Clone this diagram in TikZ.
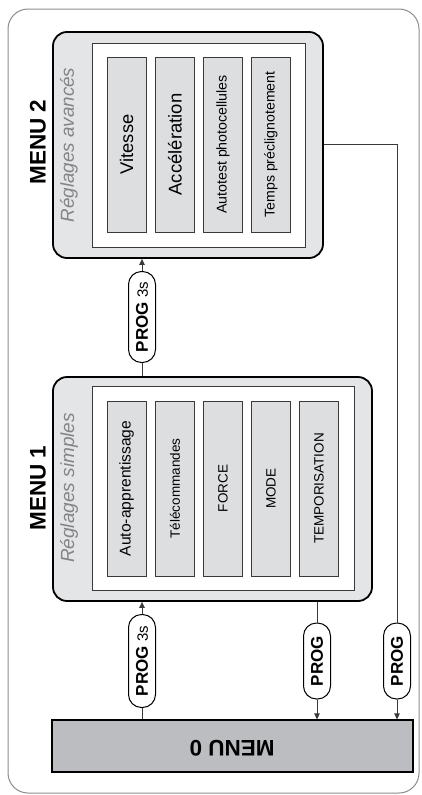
\documentclass[tikz,border=0pt]{standalone}
\usepackage{fontspec}
\setmainfont{Liberation Sans}
\usetikzlibrary{arrows.meta}
\definecolor{framegray}{HTML}{8C8C8C}
\definecolor{menufill}{HTML}{E4E5E6}
\definecolor{itemfill}{HTML}{DDDEE0}
\definecolor{zerofill}{HTML}{BCBDC0}
\definecolor{titlegray}{HTML}{828487}
\definecolor{linegray}{HTML}{3A3A3A}
\newcommand{\threesec}{{\fontsize{15}{17}\selectfont 3s}}
\tikzset{
  menubox/.style={draw=black, line width=1.8pt, fill=menufill, rounded corners=14pt, inner sep=0pt},
  innerbox/.style={draw=linegray, line width=0.9pt, fill=white, inner sep=0pt},
  itembox/.style={draw=linegray, line width=0.8pt, fill=itemfill, inner sep=0pt,
    minimum width=175pt, minimum height=39pt, rotate=90, font=\fontsize{13.5}{15}\selectfont},
  pill/.style={draw=black, line width=1pt, fill=white, rounded corners=13pt, inner sep=0pt,
    minimum height=27pt, rotate=90, font=\fontsize{17}{19}\selectfont},
  conn/.style={draw=linegray, line width=0.9pt},
  arr/.style={conn, -{Triangle[length=6pt,width=5.5pt]}},
  menutitle/.style={rotate=90, font=\fontsize{22.5}{25}\selectfont\bfseries},
  subtitle/.style={rotate=90, text=titlegray, font=\fontsize{18.8}{21}\selectfont\itshape}
}
\begin{document}
\begin{tikzpicture}[x=1pt,y=-1pt]
\useasboundingbox (0,0) rectangle (421,795);
% outer frame
\draw[framegray, line width=1pt, rounded corners=20pt] (8,9) rectangle (419,793);

% MENU 2
\node[menubox, minimum width=270pt, minimum height=226pt] (m2) at (188,145) {};
\node[innerbox, minimum width=213pt, minimum height=204pt] (m2i) at (198.5,145) {};
\node[itembox, font=\fontsize{18.3}{20}\selectfont] (v1) at (126.5,144.5) {Vitesse};
\node[itembox, font=\fontsize{18.5}{20}\selectfont] (v2) at (175,144.5) {Accélération};
\node[itembox, font=\fontsize{14.2}{16}\selectfont] (v3) at (223,144.5) {Autotest photocellules};
\node[itembox, font=\fontsize{14.1}{16}\selectfont] (v4) at (271,144.5) {Temps préclignotement};
\node[menutitle] (t2) at (38,142) {MENU 2};
\node[subtitle] (s2) at (69,145) {Réglages avancés};

% MENU 1
\node[menubox, minimum width=319pt, minimum height=224pt] (m1) at (212.5,489) {};
\node[innerbox, minimum width=262pt, minimum height=204pt] (m1i) at (223,488) {};
\node[itembox, font=\fontsize{15.6}{17}\selectfont] (a1) at (126.5,488.5) {Auto-apprentissage};
\node[itembox] (a2) at (175,488.5) {Télécommandes};
\node[itembox] (a3) at (223,488.5) {FORCE};
\node[itembox] (a4) at (271,488.5) {MODE};
\node[itembox] (a5) at (319,488.5) {TEMPORISATION};
\node[menutitle] (t1) at (38,488) {MENU 1};
\node[subtitle, font=\fontsize{19}{21}\selectfont\itshape] (s1) at (69,488) {Réglages simples};

% MENU 0
\node[draw=black, line width=1.2pt, fill=zerofill, minimum width=361pt, minimum height=52pt, inner sep=0pt] (m0) at (232.5,746) {};
\node[rotate=180, font=\fontsize{22.5}{25}\selectfont\bfseries] (t0) at (232,748) {MENU 0};

% pills
\node[pill, minimum width=93pt] (p1) at (142,661) {\textbf{PROG} \threesec};
\node[pill, minimum width=91pt] (p2) at (142,317) {\textbf{PROG} \threesec};
\node[pill, minimum width=76pt] (p3) at (317,661) {\textbf{PROG}};
\node[pill, minimum width=76pt] (p4) at (397,661) {\textbf{PROG}};

% connectors
\draw[conn] (p1.west) -- (p1.west |- m0.north);
\draw[arr] (p1.east) -- (p1.east |- m1.south);
\draw[conn] (p2.west) -- (p2.west |- m1.north);
\draw[arr] (p2.east) -- (p2.east |- m2.south);
\draw[conn] (p3.east |- m1.south) -- (p3.east);
\draw[arr] (p3.west) -- (p3.west |- m0.north);
\coordinate (c4) at (397,144);
\draw[conn] (m2.east |- c4) -- (c4) -- (p4.east);
\draw[arr] (p4.west) -- (p4.west |- m0.north);
\end{tikzpicture}
\end{document}
